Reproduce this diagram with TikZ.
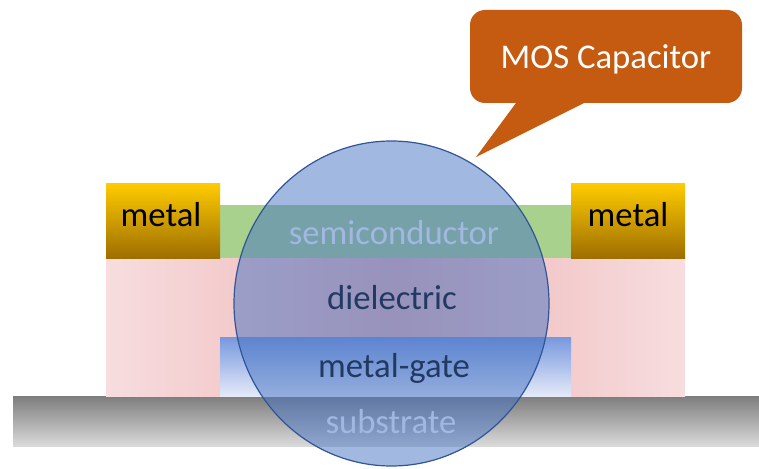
\documentclass[tikz,border=0pt]{standalone}
\usepackage{fontspec}
\setmainfont{Carlito}
\usetikzlibrary{shapes.geometric}
\begin{document}
\begin{tikzpicture}[x=1pt,y=-1pt,
  lbl/.style={inner sep=0pt,anchor=base,font=\fontsize{34.7}{40}\selectfont},
  metalbox/.style={top color=metaltop,bottom color=metalbot,draw=none}]
\definecolor{metaltop}{RGB}{255,204,0}
\definecolor{metalbot}{RGB}{158,110,0}
\definecolor{semi}{RGB}{169,209,142}
\definecolor{dieledge}{RGB}{247,221,223}
\definecolor{dielmid}{RGB}{238,180,180}
\definecolor{gatetop}{RGB}{120,152,222}
\definecolor{gatebot}{RGB}{228,233,248}
\definecolor{subtop}{RGB}{125,125,125}
\definecolor{subbot}{RGB}{218,218,218}
\definecolor{lens}{RGB}{68,114,196}
\definecolor{lensline}{RGB}{47,85,151}
\definecolor{callout}{RGB}{197,90,17}
\useasboundingbox (0,0) rectangle (759,468);

% substrate
\shade[top color=subtop,bottom color=subbot] (13,396) rectangle (759,446);
% dielectric
\shade[left color=dieledge,right color=dieledge,middle color=dielmid] (106,258) rectangle (685,396);
% metal gate
\shade[top color=gatetop,bottom color=gatebot] (220,337) rectangle (571,396);
% semiconductor
\fill[semi] (220,205) rectangle (571,258);
% metal contacts
\shade[metalbox] (106,183) rectangle (220,258);
\shade[metalbox] (571,183) rectangle (685,258);

% layer labels
\node[lbl] (m1) at (161,226.5) {metal};
\node[lbl] (m2) at (628,226.5) {metal};
\node[lbl,white] (sc) at (394,244) {semiconductor};
\node[lbl] (di) at (392,309) {dielectric};
\node[lbl] (mg) at (394,377) {metal-gate};
\node[lbl,white] (sb) at (391,433) {substrate};

% highlighting lens
\node[ellipse,minimum width=315pt,minimum height=325pt,inner sep=0pt,
  fill=lens,fill opacity=0.5,draw=lensline,line width=1.2pt] (lensnode) at (391.5,303.5) {};

% callout
\fill[callout,rounded corners=15pt] (470,10) rectangle (742,103);
\coordinate (tip) at (476,157);
\fill[callout] (516,98) -- (584,98) -- (584,103) -- (tip) -- (516,103) -- cycle;
\node[lbl,white] (title) at (606,68.5) {MOS Capacitor};
\end{tikzpicture}
\end{document}
